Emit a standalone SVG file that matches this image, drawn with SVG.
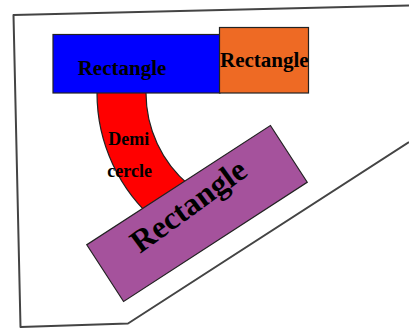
<svg xmlns="http://www.w3.org/2000/svg" width="409" height="329" viewBox="0 0 409 329">
  <style>
    .shape { stroke: #222; stroke-width: 1.2; }
    .lbl { font-family: "Liberation Serif", "Times New Roman", serif; font-weight: bold; fill: #000; }
    .frame { fill: #fff; stroke: #444; stroke-width: 2; stroke-linejoin: round; }
  </style>
  <rect width="409" height="329" fill="#fff"/>
  <g id="frame">
    <polyline class="frame" points="409,5.5 13.5,15 20.5,327 128,323.5 409,142"/>
  </g>
  <g id="demicercle">
    <path class="shape" fill="#ff0000" d="M 97 90 L 97 93 A 169 169 0 0 0 157.4 222.5 L 188.9 184.9 A 120 120 0 0 1 146 93 L 146 90 Z"/>
    <text class="lbl" x="108.3" y="145" font-size="18">Demi</text>
    <text class="lbl" x="107.3" y="176.5" font-size="18">cercle</text>
  </g>
  <g id="rect-blue">
    <rect class="shape" x="53" y="34.5" width="167" height="58.5" fill="#0000ff"/>
    <text class="lbl" x="77.7" y="75" font-size="21">Rectangle</text>
  </g>
  <g id="rect-orange">
    <rect class="shape" x="219.5" y="27.5" width="89" height="65.5" fill="#ee6a24"/>
    <text class="lbl" x="220" y="66.7" font-size="21">Rectangle</text>
  </g>
  <g id="rect-purple">
    <rect class="shape" x="87.5" y="179.7" width="219" height="67.6" fill="#a5529c" transform="rotate(-33 197 213.5)"/>
    <text class="lbl" x="140" y="254" font-size="32" transform="rotate(-36 140 254)">Rectangle</text>
  </g>
  <g id="connectors"></g>
</svg>
